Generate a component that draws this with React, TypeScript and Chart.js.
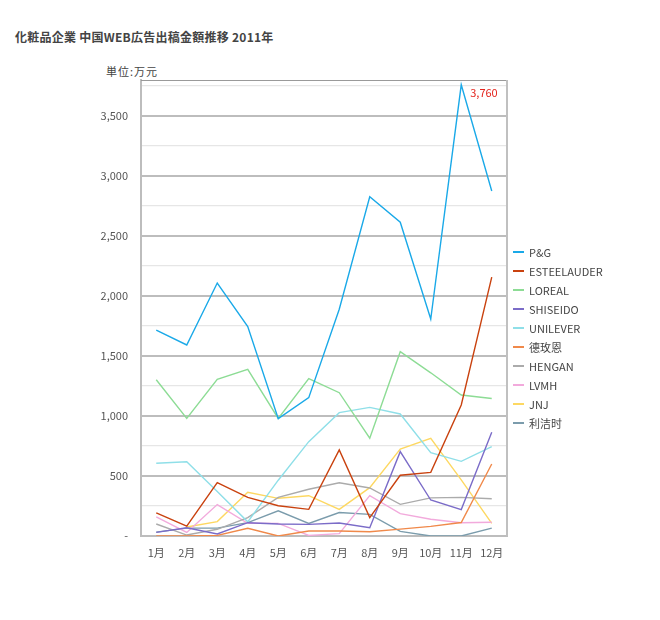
import React, { useEffect, useRef } from "react";
import { Chart, registerables } from "chart.js";

Chart.register(...registerables);

const FONT = "'Noto Sans CJK JP', 'Noto Sans', sans-serif";

const months = ["1月", "2月", "3月", "4月", "5月", "6月", "7月", "8月", "9月", "10月", "11月", "12月"];

const brands = ["P&G", "ESTEELAUDER", "LOREAL", "SHISEIDO", "UNILEVER", "德玫恩", "HENGAN", "LVMH", "JNJ", "利洁时"];
const colors = ["#1aa9e8", "#c9420f", "#8ddc95", "#7b6cc8", "#8fdfe8", "#f0894a", "#ababab", "#f2aadc", "#fdd862", "#7b9cac"];

const pg = [1715, 1592, 2108, 1745, 978, 1153, 1890, 2827, 2615, 1808, 3760, 2875];
const esteelauder = [192, 83, 444, 322, 252, 222, 717, 153, 506, 530, 1092, 2158];
const loreal = [1302, 980, 1306, 1389, 980, 1311, 1194, 815, 1536, 1360, 1175, 1146];
const shiseido = [30, 69, 17, 111, 100, 97, 108, 69, 703, 300, 220, 864];
const unilever = [606, 619, 370, 118, 465, 786, 1028, 1072, 1017, 694, 622, 744];
const demeien = [0, 0, 5, 64, 0, 42, 42, 36, 57, 80, 112, 600];
const hengan = [100, 8, 56, 153, 322, 390, 444, 400, 264, 318, 322, 310];
const lvmh = [160, 30, 262, 106, 105, 5, 20, 336, 186, 140, 110, 114];
const jnj: (number | null)[] = [null, 75, 120, 364, 314, 336, 222, 403, 725, 814, 467, 106];
const lijieshi = [32, 66, 66, 111, 210, 105, 196, 180, 38, 0, 0, 66];

const seriesValues = [pg, esteelauder, loreal, shiseido, unilever, demeien, hengan, lvmh, jnj, lijieshi];

const yMax = 3800;
const yStep = 250;
const yLabelStep = 500;

const title = "化粧品企業 中国WEB広告出稿金額推移 2011年";
const unitLabel = "単位:万元";
const peakLabel = "3,760";

const framePlugin = {
  id: "frame",
  beforeDatasetsDraw(chart: any) {
    const { ctx, chartArea } = chart;
    ctx.save();
    ctx.strokeStyle = "#9a9a9a";
    ctx.lineWidth = 1;
    ctx.beginPath();
    ctx.moveTo(chartArea.left, chartArea.top + 0.5);
    ctx.lineTo(chartArea.right, chartArea.top + 0.5);
    ctx.stroke();
    ctx.strokeStyle = "#c0c0c0";
    ctx.lineWidth = 2;
    ctx.beginPath();
    ctx.moveTo(chartArea.right, chartArea.top);
    ctx.lineTo(chartArea.right, chartArea.bottom);
    ctx.stroke();
    ctx.restore();
  },
};

const peakPlugin = {
  id: "peak",
  afterDatasetsDraw(chart: any) {
    const meta = chart.getDatasetMeta(0);
    const idx = pg.indexOf(Math.max(...pg));
    const pt = meta.data[idx];
    if (!pt) return;
    const { ctx } = chart;
    ctx.save();
    ctx.fillStyle = "#e3231c";
    ctx.font = `11px ${FONT}`;
    ctx.textAlign = "left";
    ctx.textBaseline = "middle";
    ctx.fillText(peakLabel, pt.x + 9, pt.y + 8);
    ctx.restore();
  },
};

export default function App() {
  const ref = useRef<HTMLCanvasElement>(null);

  useEffect(() => {
    if (!ref.current) return;
    const chart = new Chart(ref.current, {
      type: "line",
      data: {
        labels: months,
        datasets: brands.map((b, i) => ({
          label: b,
          data: seriesValues[i],
          borderColor: colors[i],
          backgroundColor: colors[i],
          borderWidth: 1.4,
          pointRadius: 0,
          tension: 0,
          fill: false,
        })),
      },
      options: {
        animation: false,
        responsive: false,
        maintainAspectRatio: false,
        layout: { padding: { left: 81, top: 80, right: 153, bottom: 44 } },
        plugins: {
          legend: { display: false },
          tooltip: { enabled: false },
        },
        scales: {
          x: {
            offset: true,
            grid: { display: false, drawTicks: false },
            border: { display: true, color: "#bdbdbd", width: 2 },
            ticks: { color: "#555", font: { family: FONT, size: 11 }, padding: 10, maxRotation: 0 },
            afterFit(scale: any) {
              scale.height = 40;
            },
          },
          y: {
            min: 0,
            max: yMax,
            afterBuildTicks(scale: any) {
              const t = [];
              for (let v = 0; v < yMax; v += yStep) t.push({ value: v });
              scale.ticks = t;
            },
            grid: {
              drawTicks: false,
              color: (c: any) => (c.tick && c.tick.value % yLabelStep === 0 ? "#bdbdbd" : "#e6e6e6"),
              lineWidth: (c: any) => (c.tick && c.tick.value % yLabelStep === 0 ? 2 : 1.2),
            },
            border: { display: true, color: "#bdbdbd", width: 2 },
            ticks: {
              autoSkip: false,
              color: "#555",
              font: { family: FONT, size: 11 },
              padding: 13,
              callback: (v: any) => {
                const n = Number(v);
                if (n % yLabelStep !== 0) return "";
                return n === 0 ? "-" : n.toLocaleString("en-US");
              },
            },
            afterFit(scale: any) {
              scale.width = 60;
            },
          },
        },
      },
      plugins: [framePlugin, peakPlugin],
    });
    return () => chart.destroy();
  }, []);

  return (
    <div style={{ position: "fixed", left: 0, top: 0, width: 660, height: 620, background: "#fff", fontFamily: FONT }}>
      <div style={{ position: "absolute", left: 15, top: 28, fontSize: 12, fontWeight: "bold", color: "#444", whiteSpace: "nowrap", lineHeight: "17px", letterSpacing: "0.25px" }}>
        {title}
      </div>
      <div style={{ position: "absolute", left: 106, top: 63, fontSize: 11, color: "#444", whiteSpace: "nowrap", lineHeight: "16px", letterSpacing: "1px" }}>
        {unitLabel}
      </div>
      <canvas ref={ref} width={660} height={620} style={{ position: "absolute", left: 0, top: 0, width: 660, height: 620 }} />
      {brands.map((b, i) => (
        <div key={b} style={{ position: "absolute", left: 513, top: 244 + i * 18.95, height: 16, display: "flex", alignItems: "center", whiteSpace: "nowrap" }}>
          <span style={{ display: "inline-block", width: 11, height: 2, background: colors[i], marginRight: 5 }} />
          <span style={{ fontSize: 11, color: "#444", lineHeight: "16px" }}>{b}</span>
        </div>
      ))}
    </div>
  );
}
